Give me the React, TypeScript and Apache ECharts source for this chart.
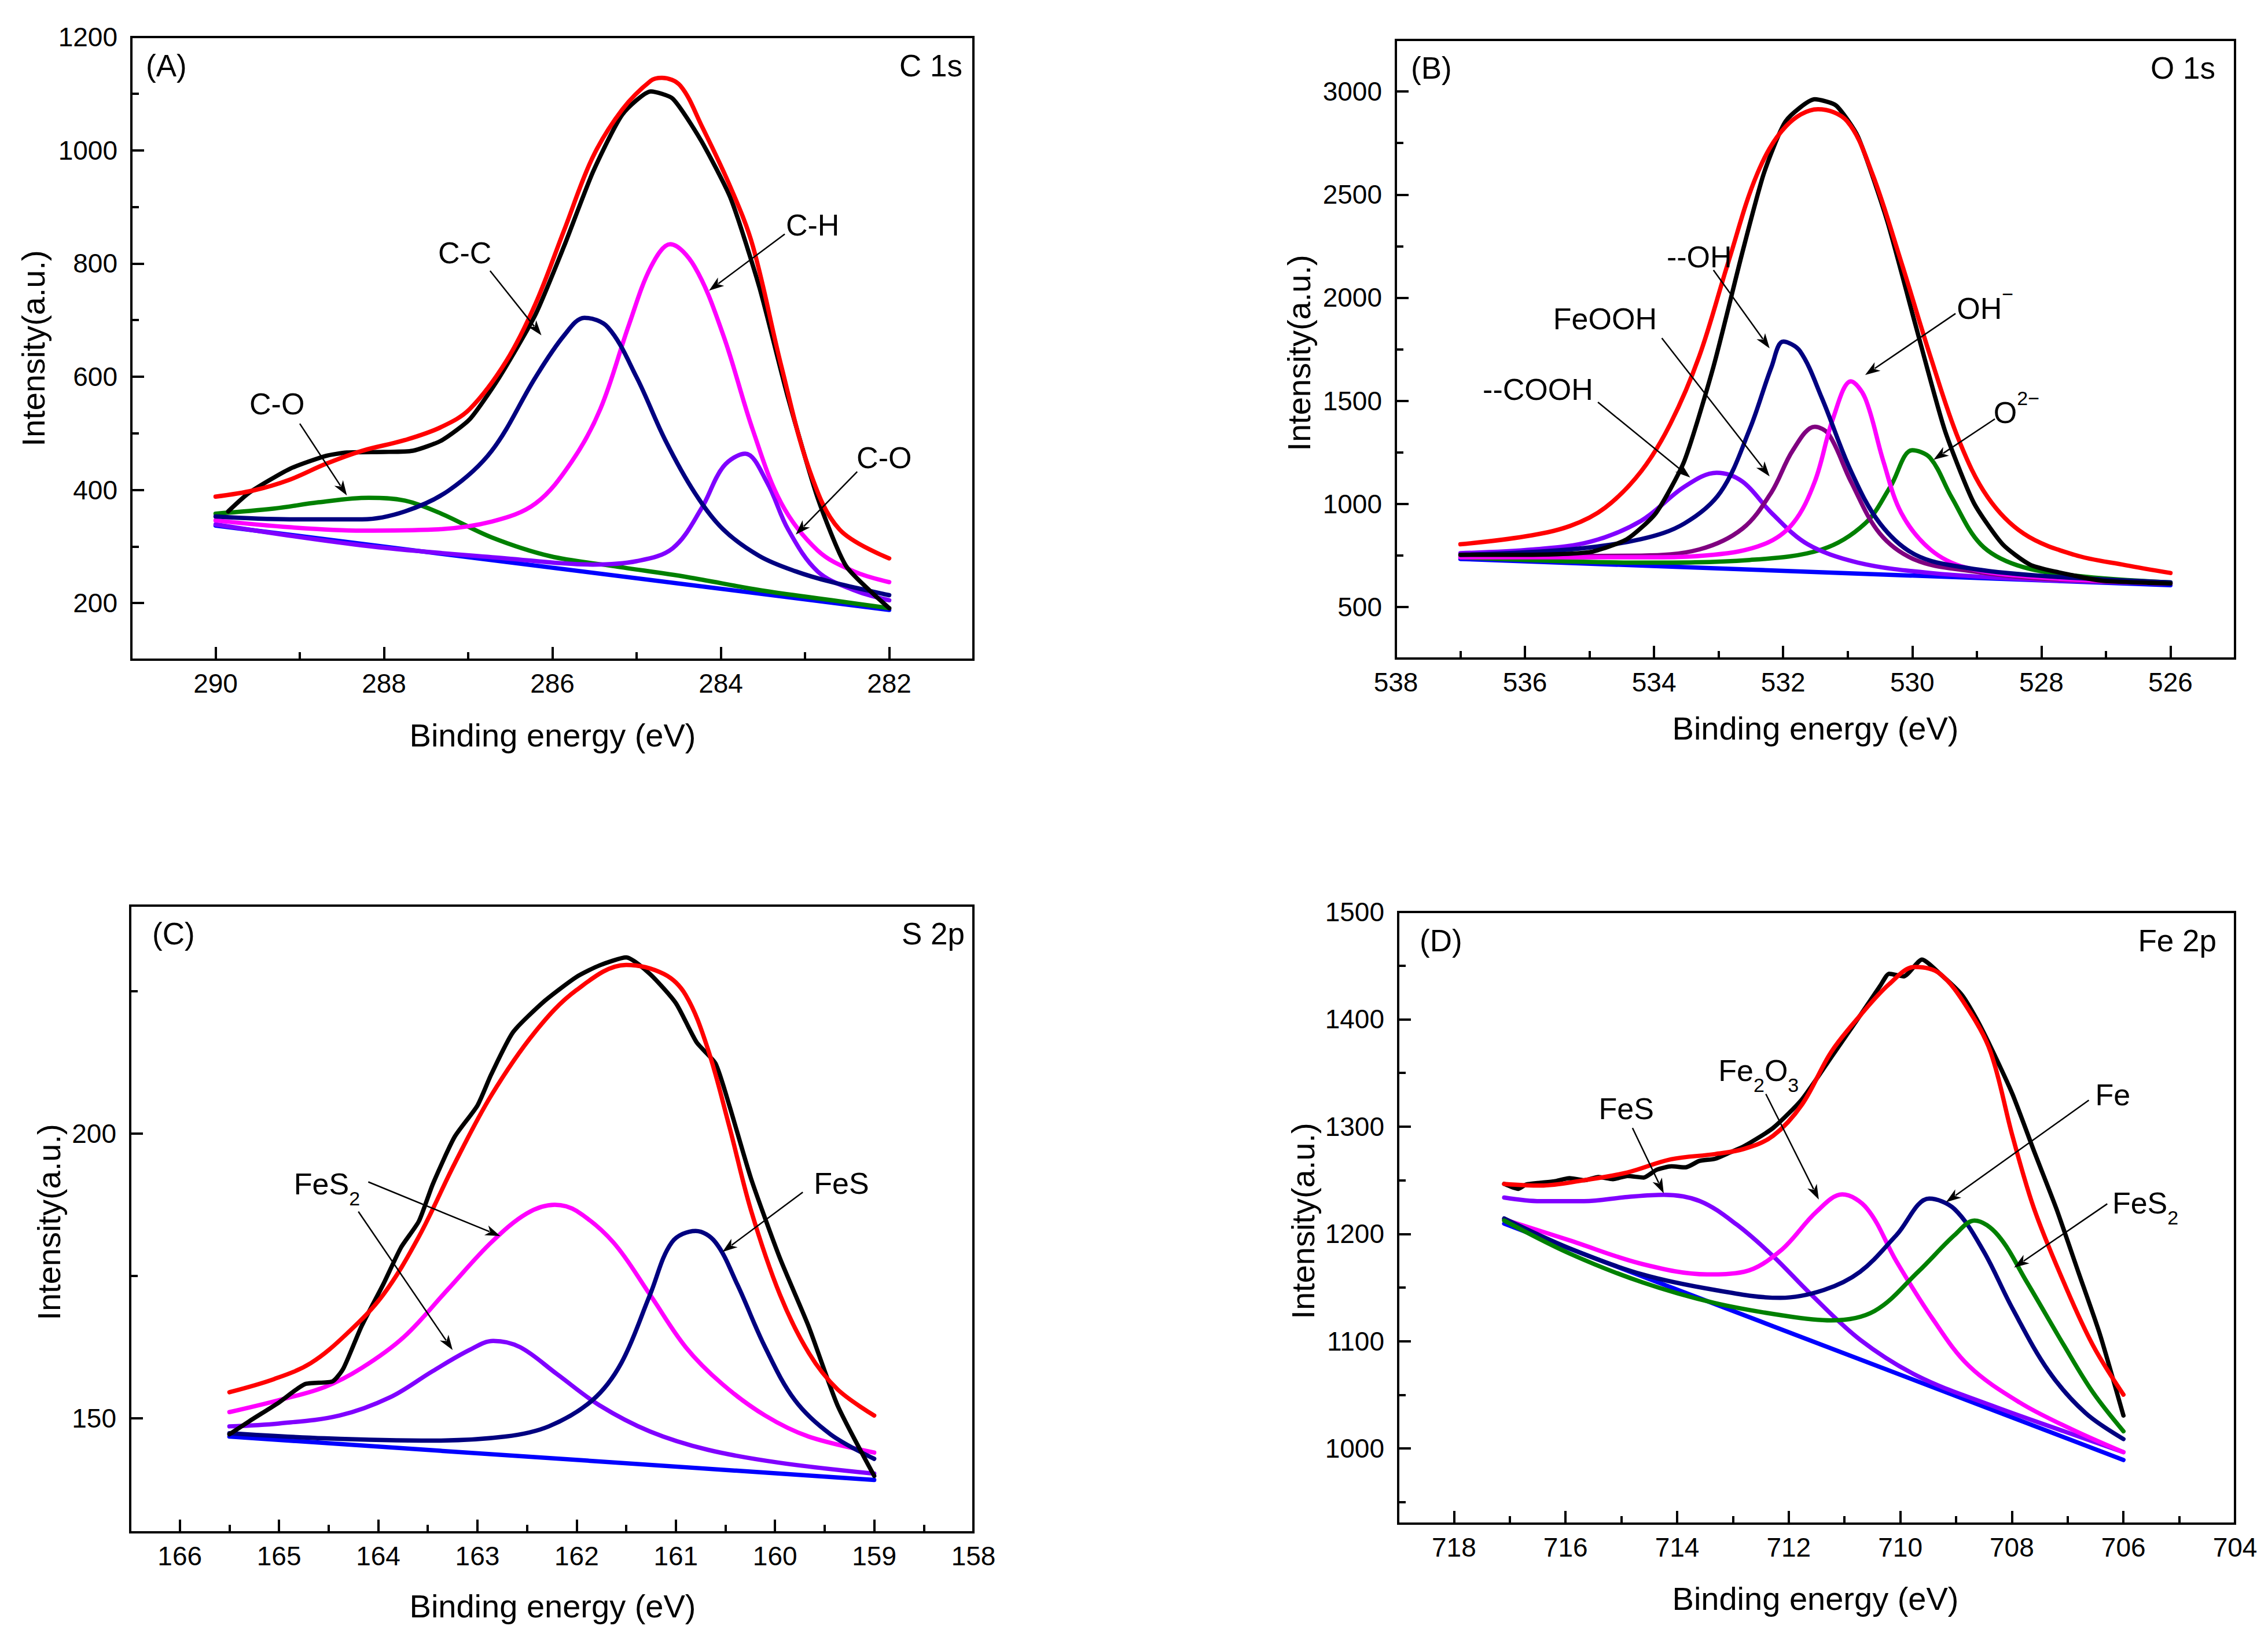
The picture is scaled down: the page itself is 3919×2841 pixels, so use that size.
import React, { useEffect, useRef } from "react";
import * as echarts from "echarts";

type Pt = [number, number];

const FONT = "'Liberation Sans', Arial, Helvetica, sans-serif";

// ---------------- Panel A : C 1s ----------------
const A_X_RANGE = [281, 291];
const A_Y_RANGE = [100, 1200];
const A_X_MAJOR = [282, 284, 286, 288, 290];
const A_X_MINOR = [283, 285, 287, 289];
const A_Y_MAJOR = [200, 400, 600, 800, 1000, 1200];
const A_Y_MINOR = [300, 500, 700, 900, 1100];
const A_BG: Pt[] = [[290, 337], [282, 188]];
const A_CO_288: Pt[] = [[290, 358], [289.3, 367], [288.78, 378], [288.18, 386], [287.75, 381], [287.32, 358], [286.72, 316], [286.03, 283], [285.26, 265], [284.4, 246], [283.54, 223], [282.68, 205], [282, 191]];
const A_CO_283: Pt[] = [[290, 339], [288.26, 302], [286.55, 279], [285.52, 268], [285.0, 274], [284.57, 297], [284.23, 367], [283.97, 441], [283.71, 464], [283.45, 413], [283.2, 330], [282.85, 256], [282.42, 223], [282, 205]];
const A_CH: Pt[] = [[290, 346], [289.12, 334], [288.26, 328], [287.4, 330], [286.72, 344], [286.2, 376], [285.77, 450], [285.43, 543], [285.09, 692], [284.83, 794], [284.6, 834], [284.31, 794], [283.97, 673], [283.62, 506], [283.28, 376], [282.85, 293], [282.42, 256], [282, 237]];
const A_CC: Pt[] = [[290, 353], [289.12, 348], [288.26, 348], [287.75, 362], [287.23, 399], [286.72, 469], [286.2, 599], [285.86, 673], [285.62, 704], [285.34, 687], [285.0, 599], [284.66, 488], [284.31, 395], [283.97, 330], [283.54, 283], [283.11, 256], [282.68, 237], [282, 214]];
const A_RAW: Pt[] = [[289.85, 362], [289.6, 395], [289.12, 437], [288.69, 460], [288.44, 466], [288.0, 467], [287.66, 469], [287.32, 487], [286.98, 525], [286.63, 599], [286.2, 710], [285.86, 831], [285.52, 961], [285.17, 1063], [284.83, 1104], [284.57, 1091], [284.23, 1016], [283.88, 914], [283.54, 757], [283.2, 562], [282.85, 386], [282.51, 265], [282, 191]];
const A_FIT: Pt[] = [[290, 388], [289.55, 399], [289.12, 418], [288.69, 446], [288.26, 469], [287.75, 488], [287.32, 511], [286.98, 543], [286.55, 627], [286.2, 729], [285.86, 859], [285.52, 988], [285.17, 1072], [284.83, 1123], [284.7, 1128], [284.48, 1114], [284.23, 1044], [283.88, 933], [283.62, 831], [283.28, 618], [282.94, 432], [282.59, 330], [282, 279]];

// ---------------- Panel B : O 1s ----------------
const B_X_RANGE = [525, 538];
const B_Y_RANGE = [250, 3250];
const B_X_MAJOR = [526, 528, 530, 532, 534, 536, 538];
const B_X_MINOR = [527, 529, 531, 533, 535, 537];
const B_Y_MAJOR = [500, 1000, 1500, 2000, 2500, 3000];
const B_Y_MINOR = [750, 1250, 1750, 2250, 2750];
const B_BG: Pt[] = [[537, 733], [526, 606]];
const B_O2: Pt[] = [[537, 741], [534.2, 715], [532.52, 728], [531.4, 779], [530.73, 905], [530.34, 1083], [530.0, 1260], [529.72, 1222], [529.39, 1032], [528.94, 804], [528.38, 703], [527.49, 652], [526, 619]];
const B_COOH: Pt[] = [[537, 761], [535.87, 779], [534.98, 817], [534.2, 918], [533.53, 1083], [533.03, 1151], [532.63, 1108], [532.18, 956], [531.62, 804], [530.84, 715], [529.72, 665], [528.05, 632], [526, 614]];
const B_FEOOH: Pt[] = [[537, 746], [534.2, 749], [533.3, 779], [532.63, 880], [532.18, 1057], [531.85, 1260], [531.51, 1374], [531.29, 1336], [530.95, 1108], [530.5, 855], [529.95, 728], [529.16, 677], [528.05, 639], [526, 614]];
const B_OHM: Pt[] = [[537, 741], [534.2, 741], [533.08, 753], [532.3, 804], [531.85, 905], [531.51, 1108], [531.23, 1412], [530.95, 1594], [530.73, 1513], [530.45, 1209], [530.17, 956], [529.72, 779], [529.16, 690], [528.05, 644], [526, 614]];
const B_OH: Pt[] = [[537, 753], [535.3, 779], [534.2, 829], [533.53, 905], [532.97, 1057], [532.52, 1361], [532.18, 1665], [532.0, 1787], [531.74, 1741], [531.4, 1513], [530.95, 1159], [530.5, 905], [529.95, 753], [529.16, 690], [528.05, 652], [526, 619]];
const B_RAW: Pt[] = [[537, 753], [536, 753], [535, 766], [534.42, 829], [533.97, 956], [533.53, 1209], [533.08, 1665], [532.63, 2222], [532.3, 2602], [531.96, 2856], [531.51, 2962], [531.18, 2932], [530.84, 2780], [530.39, 2374], [529.95, 1868], [529.5, 1361], [529.05, 1007], [528.6, 804], [528.16, 703], [527.49, 652], [527.04, 627], [526, 614]];
const B_FIT: Pt[] = [[537, 804], [536, 842], [535.3, 893], [534.76, 981], [534.2, 1158], [533.75, 1387], [533.3, 1716], [532.85, 2172], [532.4, 2602], [531.96, 2830], [531.46, 2914], [531.01, 2856], [530.62, 2602], [530.17, 2172], [529.72, 1716], [529.28, 1311], [528.83, 1032], [528.27, 855], [527.49, 753], [526.7, 703], [526, 665]];

// ---------------- Panel C : S 2p ----------------
const C_X_RANGE = [158, 166.5];
const C_Y_RANGE = [130, 240];
const C_X_MAJOR = [158, 159, 160, 161, 162, 163, 164, 165, 166];
const C_X_MINOR = [158.5, 159.5, 160.5, 161.5, 162.5, 163.5, 164.5, 165.5];
const C_Y_MAJOR = [150, 200];
const C_Y_MINOR = [175, 225];
const C_BG: Pt[] = [[165.5, 146.8], [159, 139.2]];
const C_FES2_B: Pt[] = [[165.5, 148.6], [165.0, 149.1], [164.39, 150.5], [163.88, 153.7], [163.45, 158.3], [163.08, 162.0], [162.84, 163.6], [162.57, 162.5], [162.2, 157.8], [161.77, 152.3], [161.26, 147.7], [160.68, 144.5], [159.95, 142.2], [159, 140.3]];
const C_FES2_A: Pt[] = [[165.5, 151.1], [165.0, 153.2], [164.54, 155.5], [164.17, 158.8], [163.74, 164.3], [163.3, 172.6], [162.86, 180.9], [162.5, 186.0], [162.22, 187.5], [162.0, 186.4], [161.63, 180.9], [161.26, 171.7], [160.9, 162.5], [160.53, 156.0], [160.1, 150.5], [159.66, 146.8], [159, 144.0]];
const C_FES: Pt[] = [[165.5, 147.4], [164.54, 146.5], [163.45, 146.1], [162.72, 146.8], [162.28, 148.6], [161.84, 153.2], [161.55, 159.7], [161.26, 171.7], [161.04, 180.9], [160.8, 182.9], [160.6, 180.9], [160.38, 173.5], [160.1, 162.5], [159.8, 153.2], [159.44, 147.2], [159, 142.9]];
const C_RAW: Pt[] = [[165.5, 147.2], [165.3, 149.5], [165.0, 152.8], [164.74, 156.0], [164.46, 156.5], [164.35, 158.8], [164.17, 166.1], [163.95, 173.5], [163.77, 180.0], [163.59, 184.6], [163.45, 191.1], [163.23, 199.4], [163.0, 204.9], [162.86, 210.4], [162.64, 217.8], [162.32, 223.3], [162.0, 227.5], [161.77, 229.5], [161.5, 230.9], [161.26, 228.0], [161.0, 222.9], [160.79, 216.0], [160.6, 212.3], [160.46, 204.9], [160.24, 192.0], [159.95, 178.1], [159.66, 166.1], [159.37, 152.3], [159, 139.9]];
const C_FIT: Pt[] = [[165.5, 154.6], [165.05, 156.9], [164.68, 159.7], [164.32, 164.8], [163.95, 171.7], [163.59, 181.9], [163.23, 194.7], [162.86, 206.7], [162.42, 217.8], [162.0, 225.2], [161.5, 229.6], [161.12, 228.0], [160.9, 224.3], [160.68, 215.0], [160.46, 201.2], [160.24, 186.4], [159.95, 171.7], [159.66, 161.5], [159.37, 155.1], [159, 150.5]];

// ---------------- Panel D : Fe 2p ----------------
const D_X_RANGE = [704, 719];
const D_Y_RANGE = [930, 1500];
const D_X_MAJOR = [704, 706, 708, 710, 712, 714, 716, 718];
const D_X_MINOR = [705, 707, 709, 711, 713, 715, 717];
const D_Y_MAJOR = [1000, 1100, 1200, 1300, 1400, 1500];
const D_Y_MINOR = [950, 1050, 1150, 1250, 1350, 1450];
const D_BG: Pt[] = [[717.1, 1209.6], [706, 989.3]];
const D_FES: Pt[] = [[717.1, 1233.9], [716.45, 1230.5], [715.67, 1230.5], [714.89, 1234.4], [714.24, 1236.4], [713.59, 1230.5], [712.93, 1208.6], [712.28, 1179.3], [711.63, 1145.2], [710.72, 1101.4], [709.68, 1067.3], [708.38, 1040.4], [707.07, 1016.1], [706, 996.6]];
const D_FE2O3: Pt[] = [[717.1, 1213.5], [715.93, 1194], [714.63, 1172], [713.46, 1162.3], [712.8, 1164.7], [712.15, 1184.2], [711.5, 1220.8], [711.04, 1236.8], [710.59, 1223.2], [710.07, 1174.5], [709.42, 1120.9], [708.77, 1077], [707.86, 1042.9], [706.95, 1018.5], [706, 996.6]];
const D_FE: Pt[] = [[717.1, 1214.4], [715.93, 1186.6], [714.63, 1162.3], [713.32, 1147.7], [712.15, 1140.4], [711.37, 1147.7], [710.72, 1164.7], [710.07, 1198.8], [709.48, 1232.9], [709.03, 1223.2], [708.51, 1184.2], [707.99, 1130.6], [707.34, 1072.1], [706.68, 1033.1], [706, 1008.8]];
const D_FES2: Pt[] = [[717.1, 1212.5], [715.93, 1181.8], [714.63, 1155], [713.32, 1135.5], [712.02, 1123.3], [711.24, 1119.4], [710.46, 1128.2], [709.68, 1164.7], [709.03, 1198.8], [708.67, 1212.5], [708.25, 1198.8], [707.73, 1155], [707.07, 1096.5], [706.55, 1052.6], [706, 1016.1]];
const D_RAW: Pt[] = [[717.1, 1246.6], [716.85, 1242], [716.71, 1246], [716.45, 1247.6], [716.2, 1249], [715.93, 1252], [715.67, 1250], [715.41, 1253], [715.15, 1251], [714.89, 1254], [714.6, 1252.5], [714.37, 1259.7], [714.1, 1263], [713.85, 1262], [713.6, 1268], [713.32, 1270], [713.05, 1276], [712.8, 1281.7], [712.28, 1298.7], [711.76, 1325.5], [711.24, 1364.5], [710.72, 1403.5], [710.35, 1432], [710.2, 1442.5], [709.94, 1440], [709.61, 1455.7], [709.29, 1442.5], [708.9, 1423], [708.64, 1401], [708.38, 1374.3], [707.99, 1330.4], [707.6, 1276.8], [707.2, 1223.2], [706.81, 1164.7], [706.42, 1106.2], [706, 1030.7]];
const D_FIT: Pt[] = [[717.1, 1246.6], [716.45, 1245], [715.67, 1250], [714.89, 1257.3], [714.11, 1269.5], [713.32, 1274.4], [712.8, 1279.2], [712.28, 1291.4], [711.76, 1320.7], [711.24, 1369.4], [710.72, 1403.5], [710.2, 1432.7], [709.74, 1448.8], [709.29, 1442.5], [708.77, 1408.4], [708.38, 1369.4], [707.99, 1291.4], [707.6, 1223.2], [707.07, 1155], [706.55, 1096.5], [706, 1050.2]];

// ---------------- Annotations (data coordinates) ----------------
type Note = { text: string; at: Pt; align?: "left" | "center"; arrows: [Pt, Pt][] };
const A_NOTES: Note[] = [
  { text: "C-O", at: [289.27, 552], arrows: [[[289.0, 517], [288.44, 390]]] },
  { text: "C-C", at: [287.04, 819], arrows: [[[286.74, 787], [286.13, 673]]] },
  { text: "C-H", at: [282.91, 868], arrows: [[[283.24, 852], [284.14, 752]]] },
  { text: "C-O", at: [282.06, 457], arrows: [[[282.38, 432], [283.11, 321]]] },
];
const B_NOTES: Note[] = [
  { text: "--OH", at: [533.3, 2197], arrows: [[[533.08, 2134], [532.21, 1754]]] },
  { text: "FeOOH", at: [534.76, 1898], arrows: [[[533.88, 1804], [532.21, 1133]]] },
  { text: "--COOH", at: [535.8, 1556], arrows: [[[534.87, 1493], [533.44, 1128]]] },
  { text: "OH{sup|−}", at: [529.31, 1949], align: "left", arrows: [[[529.33, 1923], [530.73, 1625]]] },
  { text: "O{sup|2−}", at: [528.74, 1442], align: "left", arrows: [[[528.72, 1412], [529.67, 1214]]] },
];
const C_NOTES: Note[] = [
  { text: "FeS{sub|2}", at: [164.85, 191.1], align: "left", arrows: [[[164.1, 191.5], [162.77, 182.0]], [[164.2, 186.3], [163.25, 162.0]]] },
  { text: "FeS", at: [159.33, 191.2], arrows: [[[159.72, 189.7], [160.53, 179.2]]] },
];
const D_NOTES: Note[] = [
  { text: "FeS", at: [714.91, 1316.8], arrows: [[[714.8, 1298.7], [714.24, 1237.8]]] },
  { text: "Fe{sub|2}O{sub|3}", at: [713.26, 1352.3], align: "left", arrows: [[[712.41, 1330.4], [711.46, 1232]]] },
  { text: "Fe", at: [706.19, 1329.4], arrows: [[[706.62, 1324.6], [709.18, 1229.5]]] },
  { text: "FeS{sub|2}", at: [706.2, 1229], align: "left", arrows: [[[706.29, 1228], [707.96, 1168.6]]] },
];

const COL = {
  raw: "#000000",
  fit: "#ff0000",
  bg: "#0000ff",
  navy: "#000080",
  magenta: "#ff00ff",
  violet: "#8000ff",
  green: "#008000",
  purple: "#800080",
};

const PANELS = [
  {
    grid: { left: 227, top: 64, width: 1455, height: 1076 },
    xr: A_X_RANGE, yr: A_Y_RANGE, xM: A_X_MAJOR, xm: A_X_MINOR, yM: A_Y_MAJOR, ym: A_Y_MINOR,
    curves: [
      { d: A_BG, c: COL.bg }, { d: A_CO_288, c: COL.green }, { d: A_CO_283, c: COL.violet },
      { d: A_CH, c: COL.magenta }, { d: A_CC, c: COL.navy }, { d: A_RAW, c: COL.raw, raw: true }, { d: A_FIT, c: COL.fit },
    ],
    notes: A_NOTES,
    tag: "(A)", tagPos: [252, 113], title: "C 1s", titlePos: [1663, 113],
    xt: [955, 1270], yt: [57, 602],
  },
  {
    grid: { left: 2412, top: 69, width: 1450, height: 1069 },
    xr: B_X_RANGE, yr: B_Y_RANGE, xM: B_X_MAJOR, xm: B_X_MINOR, yM: B_Y_MAJOR, ym: B_Y_MINOR,
    curves: [
      { d: B_BG, c: COL.bg }, { d: B_O2, c: COL.green }, { d: B_COOH, c: COL.violet }, { d: B_FEOOH, c: COL.purple },
      { d: B_OHM, c: COL.magenta }, { d: B_OH, c: COL.navy }, { d: B_RAW, c: COL.raw, raw: true }, { d: B_FIT, c: COL.fit },
    ],
    notes: B_NOTES,
    tag: "(B)", tagPos: [2438, 117], title: "O 1s", titlePos: [3828, 117],
    xt: [3137, 1258], yt: [2244, 610],
  },
  {
    grid: { left: 225, top: 1565, width: 1457, height: 1083 },
    xr: C_X_RANGE, yr: C_Y_RANGE, xM: C_X_MAJOR, xm: C_X_MINOR, yM: C_Y_MAJOR, ym: C_Y_MINOR,
    curves: [
      { d: C_BG, c: COL.bg }, { d: C_FES2_B, c: COL.violet }, { d: C_FES2_A, c: COL.magenta },
      { d: C_FES, c: COL.navy }, { d: C_RAW, c: COL.raw, raw: true }, { d: C_FIT, c: COL.fit },
    ],
    notes: C_NOTES,
    tag: "(C)", tagPos: [263, 1613], title: "S 2p", titlePos: [1667, 1613],
    xt: [955, 2775], yt: [84, 2112],
  },
  {
    grid: { left: 2416, top: 1576, width: 1446, height: 1057 },
    xr: D_X_RANGE, yr: D_Y_RANGE, xM: D_X_MAJOR, xm: D_X_MINOR, yM: D_Y_MAJOR, ym: D_Y_MINOR,
    curves: [
      { d: D_BG, c: COL.bg }, { d: D_FES, c: COL.violet }, { d: D_FE2O3, c: COL.magenta },
      { d: D_FE, c: COL.navy }, { d: D_FES2, c: COL.green }, { d: D_RAW, c: COL.raw, raw: true }, { d: D_FIT, c: COL.fit },
    ],
    notes: D_NOTES,
    tag: "(D)", tagPos: [2453, 1625], title: "Fe 2p", titlePos: [3830, 1625],
    xt: [3137, 2762], yt: [2251, 2110],
  },
];

const TICK_FONT = 46;
const NOTE_FONT = 52;
const TITLE_FONT = 56;
const TAG_FONT = 53;
const CURVE_WIDTH = 7.5;

const plain = (v: number) => String(v);

function buildOption() {
  const grid: any[] = [];
  const xAxis: any[] = [];
  const yAxis: any[] = [];
  const series: any[] = [];
  const starts: number[] = [];
  PANELS.forEach((p, i) => {
    grid.push({ ...p.grid, show: true, borderColor: "#000", borderWidth: 4, backgroundColor: "transparent", containLabel: false });
    const lineStyle = { color: "#000", width: 4 };
    const label = { show: true, fontSize: TICK_FONT, fontFamily: FONT, color: "#000", formatter: plain };
    xAxis.push({
      type: "value", gridIndex: i, position: "bottom", min: p.xr[0], max: p.xr[1], inverse: true,
      axisLine: { show: true, onZero: false, lineStyle },
      axisTick: { show: true, inside: true, length: 22, lineStyle, customValues: p.xM },
      axisLabel: { ...label, margin: 18, customValues: p.xM },
      splitLine: { show: false },
    });
    xAxis.push({
      type: "value", gridIndex: i, position: "bottom", min: p.xr[0], max: p.xr[1], inverse: true,
      axisLine: { show: false, onZero: false },
      axisTick: { show: true, inside: true, length: 13, lineStyle, customValues: p.xm },
      axisLabel: { show: false },
      splitLine: { show: false },
    });
    yAxis.push({
      type: "value", gridIndex: i, position: "left", min: p.yr[0], max: p.yr[1],
      axisLine: { show: true, onZero: false, lineStyle },
      axisTick: { show: true, inside: true, length: 22, lineStyle, customValues: p.yM },
      axisLabel: { ...label, margin: 24, customValues: p.yM },
      splitLine: { show: false },
    });
    yAxis.push({
      type: "value", gridIndex: i, position: "left", min: p.yr[0], max: p.yr[1],
      axisLine: { show: false, onZero: false },
      axisTick: { show: true, inside: true, length: 13, lineStyle, customValues: p.ym },
      axisLabel: { show: false },
      splitLine: { show: false },
    });
    starts.push(series.length);
    p.curves.forEach((cv: any, k: number) => {
      series.push({
        type: "line",
        xAxisIndex: 2 * i,
        yAxisIndex: 2 * i,
        data: cv.d,
        symbol: "none",
        showSymbol: false,
        smooth: cv.raw ? 0.2 : 0.35,
        lineStyle: { color: cv.c, width: CURVE_WIDTH, join: "round", cap: "round" },
        silent: true,
        z: 2 + k,
      });
    });
  });
  return {
    option: { animation: false, backgroundColor: "#ffffff", grid, xAxis, yAxis, series },
    starts,
  };
}

function arrow(p1: number[], p2: number[]) {
  const dx = p2[0] - p1[0];
  const dy = p2[1] - p1[1];
  const L = Math.hypot(dx, dy) || 1;
  const ux = dx / L, uy = dy / L;
  const nx = -uy, ny = ux;
  const head = 26, hw = 9;
  const bx = p2[0] - ux * head, by = p2[1] - uy * head;
  return [
    {
      type: "line",
      shape: { x1: p1[0], y1: p1[1], x2: bx + ux * 6, y2: by + uy * 6 },
      style: { stroke: "#000", lineWidth: 2.5 },
      z: 100,
    },
    {
      type: "polygon",
      shape: {
        points: [
          [p2[0], p2[1]],
          [bx + nx * hw, by + ny * hw],
          [p2[0] - ux * head * 0.72, p2[1] - uy * head * 0.72],
          [bx - nx * hw, by - ny * hw],
        ],
      },
      style: { fill: "#000" },
      z: 100,
    },
  ];
}

const RICH = {
  sub: { fontSize: 34, fontFamily: FONT, fill: "#000", verticalAlign: "bottom", lineHeight: 34 },
  sup: { fontSize: 34, fontFamily: FONT, fill: "#000", verticalAlign: "top", lineHeight: 34 },
};

function textEl(x: number, y: number, text: string, size: number, align: string, extra: any = {}) {
  const rich = text.indexOf("{") >= 0;
  return {
    type: "text",
    x,
    y,
    z: 100,
    ...extra,
    style: {
      text,
      fontSize: size,
      fontFamily: FONT,
      fill: "#000",
      align,
      verticalAlign: "middle",
      ...(rich ? { rich: RICH, lineHeight: 84 } : {}),
    },
  };
}

export default function App() {
  const ref = useRef<HTMLDivElement>(null);
  useEffect(() => {
    if (!ref.current) return;
    const chart = echarts.init(ref.current, undefined, { renderer: "svg" });
    const { option, starts } = buildOption();
    chart.setOption(option);
    const g: any[] = [];
    PANELS.forEach((p, i) => {
      const si = starts[i];
      const toPx = (pt: Pt) => chart.convertToPixel({ seriesIndex: si }, pt) as unknown as number[];
      p.notes.forEach((n) => {
        const t = toPx(n.at);
        g.push(textEl(t[0], t[1], n.text, NOTE_FONT, n.align || "center"));
        n.arrows.forEach((a) => {
          g.push(...arrow(toPx(a[0]), toPx(a[1])));
        });
      });
      g.push(textEl(p.tagPos[0], p.tagPos[1], p.tag, TAG_FONT, "left"));
      g.push(textEl(p.titlePos[0], p.titlePos[1], p.title, TAG_FONT, "right"));
      g.push(textEl(p.xt[0], p.xt[1], "Binding energy (eV)", TITLE_FONT, "center"));
      g.push(textEl(p.yt[0], p.yt[1], "Intensity(a.u.)", TITLE_FONT, "center", { rotation: Math.PI / 2 }));
    });
    chart.setOption({ graphic: g });
    return () => chart.dispose();
  }, []);
  return (
    <div
      ref={ref}
      style={{ position: "fixed", left: 0, top: 0, width: 3919, height: 2841, background: "#fff" }}
    />
  );
}
